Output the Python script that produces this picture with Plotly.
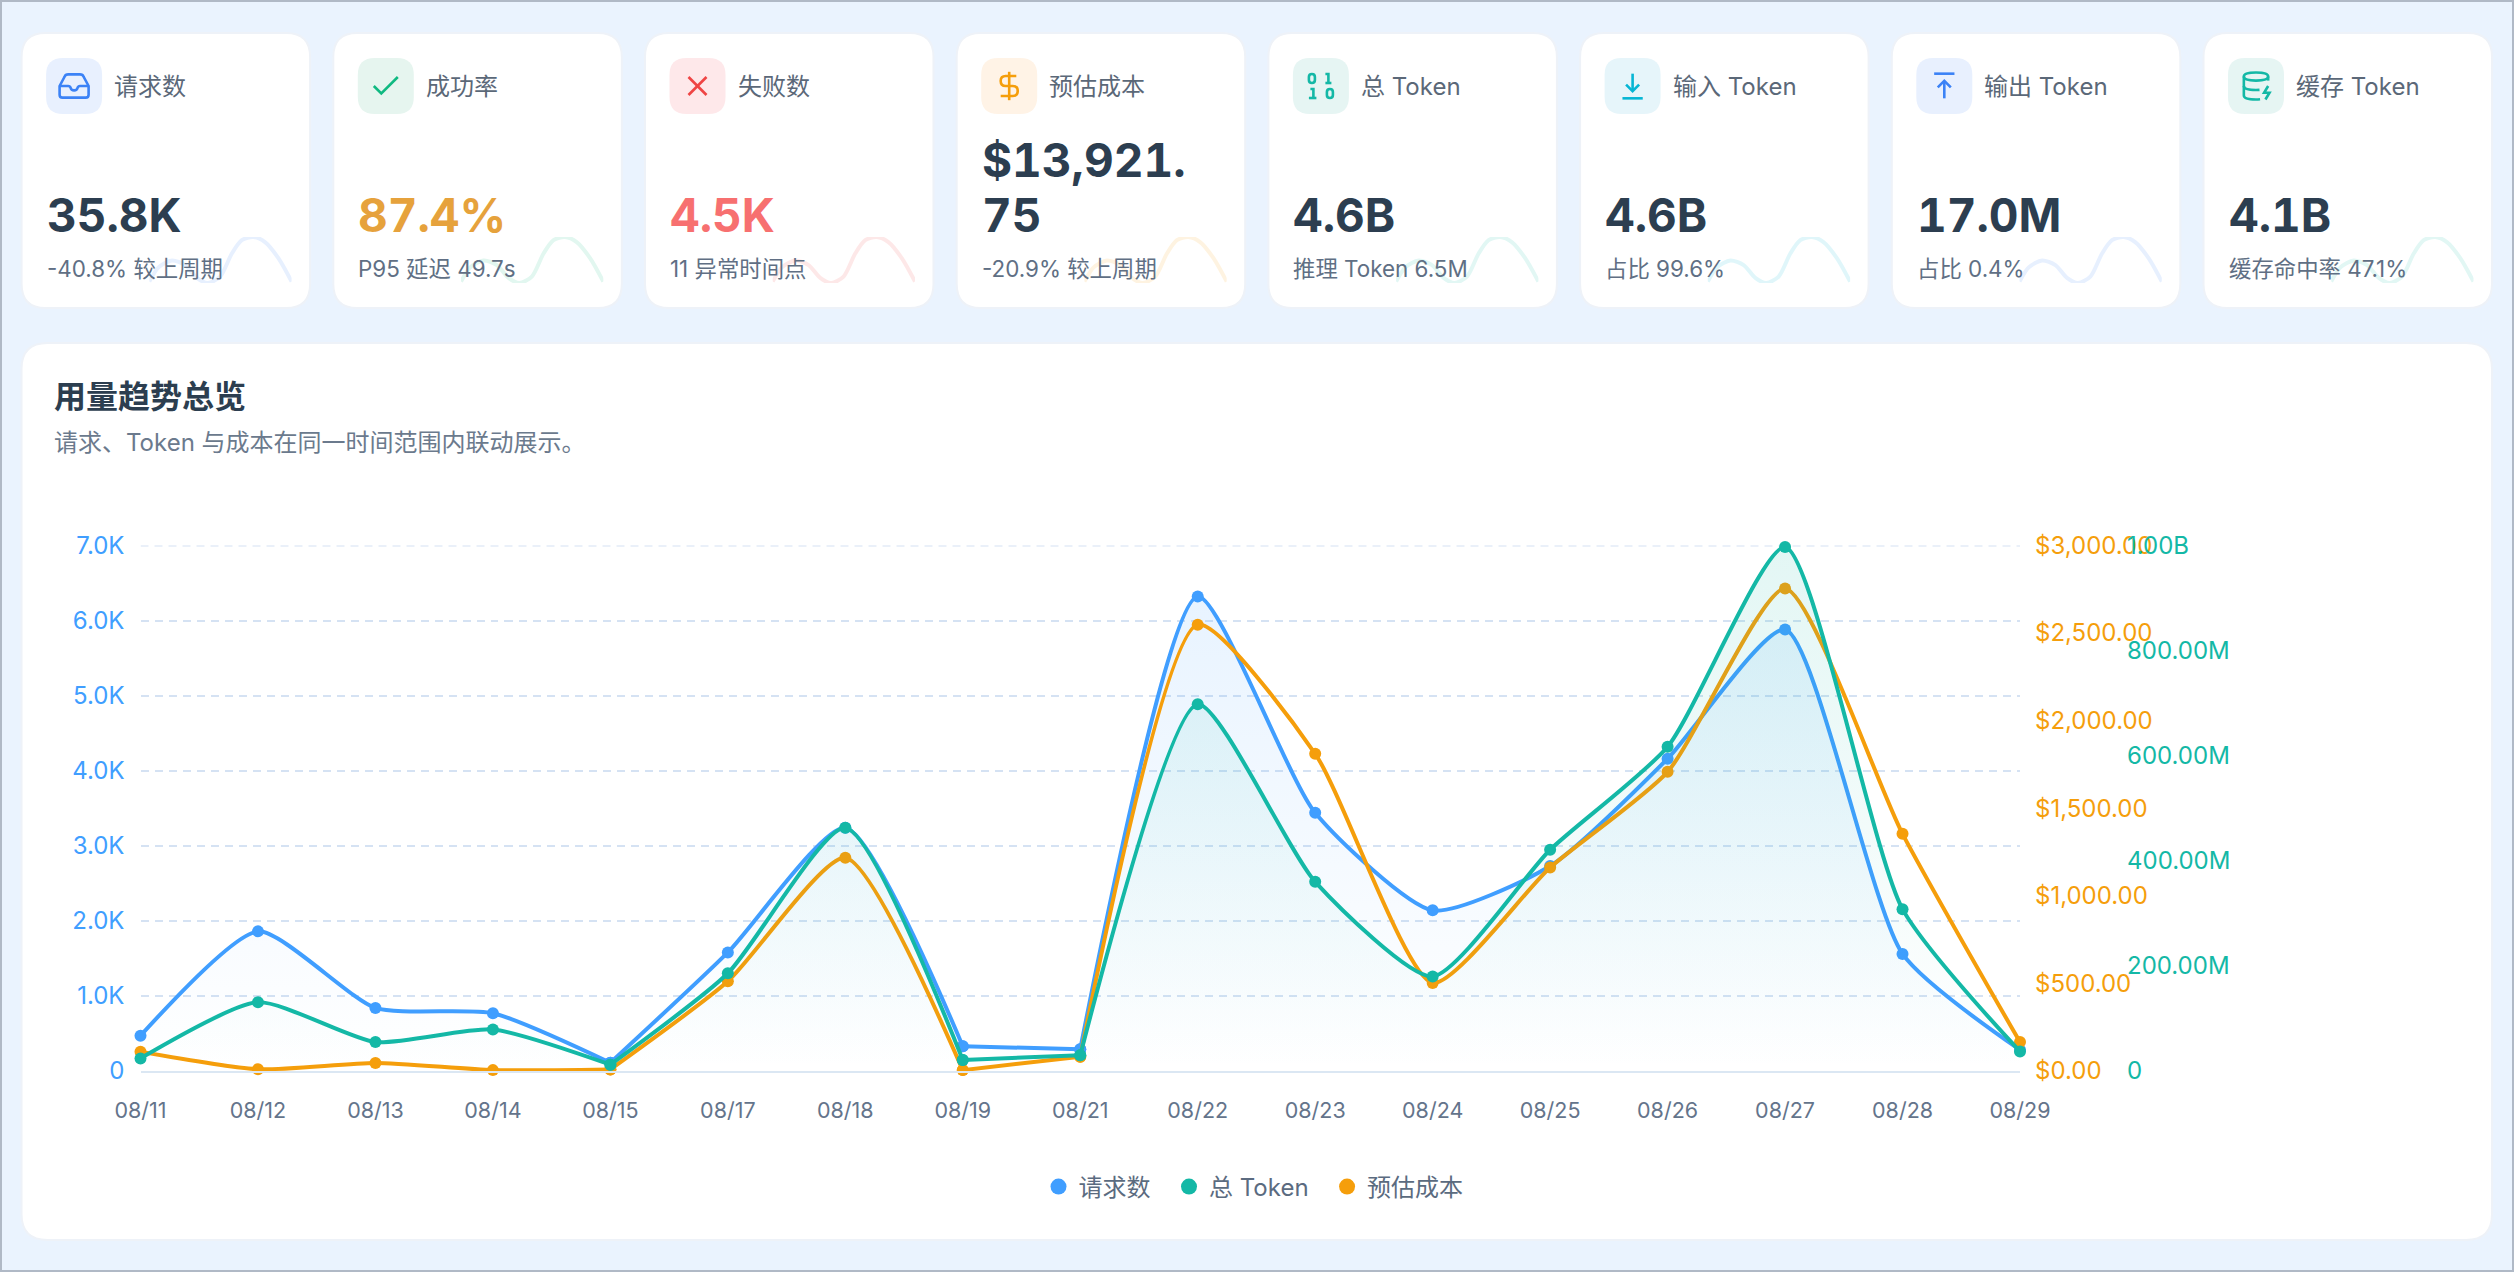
import re
import plotly.graph_objects as go

W, H = 2514, 1272
FONT = "Inter, 'Noto Sans CJK SC', sans-serif"

# chart data
dates = ["08/11", "08/12", "08/13", "08/14", "08/15", "08/17", "08/18", "08/19", "08/21",
         "08/22", "08/23", "08/24", "08/25", "08/26", "08/27", "08/28", "08/29"]
requests = [470, 1860, 840, 770, 110, 1580, 3240, 330, 290, 6320, 3440, 2140, 2730, 4160, 5880, 1560, 280]
tokens = [24e6, 131e6, 55e6, 79e6, 12e6, 186e6, 463e6, 21e6, 30e6, 698e6, 360e6, 180e6, 421e6, 617e6, 997e6, 308e6, 37e6]
cost = [110, 10, 46, 5, 9, 512, 1217, 5, 82, 2548, 1811, 503, 1162, 1708, 2754, 1354, 165]

# plotly splines dip under these flat stretches, so each series restarts here
break_dates = ["08/15", "08/19", "08/21"]

req_ticks = [0, 1000, 2000, 3000, 4000, 5000, 6000, 7000]
req_labels = ["0", "1.0K", "2.0K", "3.0K", "4.0K", "5.0K", "6.0K", "7.0K"]
cost_ticks = [0, 500, 1000, 1500, 2000, 2500, 3000]
cost_labels = ["$0.00", "$500.00", "$1,000.00", "$1,500.00", "$2,000.00", "$2,500.00", "$3,000.00"]
token_ticks = [0, 200e6, 400e6, 600e6, 800e6, 1e9]
token_labels = ["0", "200.00M", "400.00M", "600.00M", "800.00M", "1.00B"]

# stat cards
card_labels = ["请求数", "成功率", "失败数", "预估成本", "总 Token", "输入 Token", "输出 Token", "缓存 Token"]
card_values = ["35.8K", "87.4%", "4.5K", "$13,921.<br>75", "4.6B", "4.6B", "17.0M", "4.1B"]
card_subs = ["-40.8% 较上周期", "P95 延迟 49.7s", "11 异常时间点", "-20.9% 较上周期",
             "推理 Token 6.5M", "占比 99.6%", "占比 0.4%", "缓存命中率 47.1%"]
value_colors = ["#2c3e50", "#e6a23c", "#f77070", "#2c3e50", "#2c3e50", "#2c3e50", "#2c3e50", "#2c3e50"]
icon_colors = ["#3b82f6", "#10b981", "#ef4444", "#f59e0b", "#14b8a6", "#06b6d4", "#3b82f6", "#14b8a6"]
icon_bgs = ["#e8f0fe", "#e6f5ef", "#fee8ea", "#fff3e6", "#e6f5f3", "#e6f5fa", "#e8f0fe", "#e6f5f3"]

# background sparkline shape, same on every card
spark_x = [0, 6.5, 15.9, 25.2, 33.4, 41.1, 49.8, 58, 65, 73.1, 81.3, 90.7, 100]
spark_y = [3, 34, 49, 39, 11, 0, 14, 64, 93, 100, 89, 54, 3]

# icons, drawn in a 24 unit box
icons = [
    ["M2 12 L5.5 5.5 Q6 4 8 4 L16 4 Q18 4 18.5 5.5 L22 12 L22 18 Q22 20 20 20 L4 20 Q2 20 2 18 Z",
     "M2 12 L8 12 Q9 12 9.5 13 Q10 15 12 15 Q14 15 14.5 13 Q15 12 16 12 L22 12"],
    ["M20 6 L9 17 L4 12"],
    ["M18 6 L6 18", "M6 6 L18 18"],
    ["M12 2 L12 22", "M17 5 L9.5 5 Q6 5 6 8.5 Q6 12 9.5 12 L14.5 12 Q18 12 18 15.5 Q18 19 14.5 19 L6 19"],
    ["M4 6 Q4 4 6 4 Q8 4 8 6 L8 8 Q8 10 6 10 Q4 10 4 8 Z", "M15 4 L17 4 L17 10",
     "M5 14 L7 14 L7 20", "M16 16 Q16 14 18 14 Q20 14 20 16 L20 18 Q20 20 18 20 Q16 20 16 18 Z",
     "M15 10 L19 10", "M4 20 L9 20"],
    ["M12 3.5 L12 15.5", "M7.5 11 L12 15.5 L16.5 11", "M5 20.5 L19 20.5"],
    ["M5 3.5 L19 3.5", "M12 20.5 L12 8.5", "M7.5 13 L12 8.5 L16.5 13"],
    ["M3 5 Q3 2 12 2 Q21 2 21 5 Q21 8 12 8 Q3 8 3 5 Z", "M3 5 L3 19 Q3 22 12 22 Q13.5 22 15 21.8",
     "M21 5 L21 8", "M21 12 L18 17 L22 17 L19 22", "M3 12 Q3 15 12 15 Q13.5 15 14.6 14.9"],
]
icon_scale = [1.45, 1.5, 1.5, 1.42, 1.5, 1.45, 1.45, 1.35]

CARD_W, CARD_PITCH, CARD_LEFT = 288.5, 311.7, 21.6
CARD_TOP, CARD_BOTTOM = 33, 308


def round_rect(x0, y0, x1, y1, r):
    return (f"M{x0+r} {y0} L{x1-r} {y0} Q{x1} {y0} {x1} {y0+r} L{x1} {y1-r} Q{x1} {y1} {x1-r} {y1} "
            f"L{x0+r} {y1} Q{x0} {y1} {x0} {y1-r} L{x0} {y0+r} Q{x0} {y0} {x0+r} {y0} Z")


def place_icon(path, cx, cy, s):
    # alternate numbers are x and y
    nums = iter(range(10000))

    def fix(m):
        v = float(m.group())
        if next(nums) % 2 == 0:
            return f"{cx + (v - 12) * s:.2f}"
        return f"{cy + (v - 12) * s:.2f}"
    return re.sub(r"-?\d+\.?\d*", fix, path)


def text(x, y, s, size, color, weight=400):
    return dict(xref="x", yref="y", x=x, y=y, text=s, showarrow=False, xanchor="left", yanchor="middle",
                align="left", borderpad=0, font=dict(family=FONT, size=size, color=color, weight=weight))


fig = go.Figure()
shapes = []
annotations = []

# pixel overlay for the page furniture
fig.add_trace(go.Scatter(x=[None], y=[None], xaxis="x", yaxis="y", showlegend=False, hoverinfo="skip"))
layout_axes = dict(
    xaxis=dict(domain=[0, 1], range=[0, W], visible=False, fixedrange=True, automargin=False),
    yaxis=dict(domain=[0, 1], range=[H, 0], visible=False, fixedrange=True, automargin=False),
)

shapes.append(dict(type="path", xref="x", yref="y", layer="below",
                   path=round_rect(21.5, 343, 2492, 1240, 26), fillcolor="#ffffff",
                   line=dict(color="#eef2f8", width=2)))

for i in range(8):
    left = CARD_LEFT + i * CARD_PITCH
    shapes.append(dict(type="path", xref="x", yref="y", layer="below",
                       path=round_rect(left, CARD_TOP, left + CARD_W, CARD_BOTTOM, 24), fillcolor="#ffffff",
                       line=dict(color="#eef2f8", width=2)))
    shapes.append(dict(type="path", xref="x", yref="y", layer="below",
                       path=round_rect(left + 24.5, 58, left + 80.5, 114, 17), fillcolor=icon_bgs[i],
                       line=dict(width=0)))
    for p in icons[i]:
        shapes.append(dict(type="path", xref="x", yref="y", layer="below",
                           path=place_icon(p, left + 52.5, 86, icon_scale[i]),
                           line=dict(color=icon_colors[i], width=2.6)))

    annotations.append(text(left + 91.5, 86.5, card_labels[i], 24, "#5b6878"))
    lines = card_values[i].split("<br>")
    for k, line in enumerate(reversed(lines)):
        annotations.append(text(left + 24, 215 - k * 55, line, 46, value_colors[i], 700))
    annotations.append(text(left + 24, 268, card_subs[i], 22.4, "#606f84"))

    # sparkline lives in its own little subplot
    n = i + 5
    fig.add_trace(go.Scatter(
        x=spark_x, y=spark_y, xaxis=f"x{n}", yaxis=f"y{n}", mode="lines", showlegend=False, hoverinfo="skip",
        line=dict(color=icon_colors[i], width=4, shape="spline", smoothing=0.8), opacity=0.12, cliponaxis=False))
    layout_axes[f"xaxis{n}"] = dict(domain=[(left + 127.7) / W, (left + 270) / W], range=[0, 100], automargin=False,
                                    visible=False, fixedrange=True, anchor=f"y{n}")
    layout_axes[f"yaxis{n}"] = dict(domain=[1 - 283 / H, 1 - 237 / H], range=[0, 100], automargin=False,
                                    visible=False, fixedrange=True, anchor=f"x{n}")

annotations.append(text(52.5, 396, "用量趋势总览", 32, "#2c3e50", 700))
annotations.append(text(52.5, 442, "请求、Token 与成本在同一时间范围内联动展示。", 24, "#6b7a8d"))

# main chart
BLUE, TEAL, ORANGE = "#409eff", "#14b8a6", "#f59e0b"
series = [("请求数", requests, "y2", BLUE, "rgba(64,158,255,0.12)", "rgba(64,158,255,0)"),
          ("总 Token", tokens, "y4", TEAL, "rgba(20,184,166,0.12)", "rgba(20,184,166,0)"),
          ("预估成本", cost, "y3", ORANGE, None, None)]

cuts = [0] + [dates.index(d) for d in break_dates] + [len(dates) - 1]
for name, vals, yax, color, top, bottom in series:
    kw = {}
    if top:
        # fixed start/stop so all pieces of a series share one gradient
        kw = dict(fill="tozeroy", fillgradient=dict(type="vertical", start=0, stop=max(vals),
                                                    colorscale=[[0, bottom], [1, top]]))
    for a, b in zip(cuts[:-1], cuts[1:]):
        fig.add_trace(go.Scatter(
            x=dates[a:b + 1], y=vals[a:b + 1], xaxis="x2", yaxis=yax, name=name, mode="lines+markers",
            showlegend=False, line=dict(color=color, width=4, shape="spline", smoothing=0.6),
            marker=dict(color=color, size=12), cliponaxis=False, **kw))

# legend keys are plain dots, nbsp pads the gap between entries
for k, (name, _, _, color, _, _) in enumerate(series):
    pad = "&nbsp;&nbsp;" if k < 2 else ""
    fig.add_trace(go.Scatter(x=[None], y=[None], xaxis="x2", yaxis="y2", name=name + pad, mode="markers",
                             marker=dict(color=color, size=16)))

plot_dom = [1 - 1071 / H, 1 - 545.5 / H]
tick_font = dict(family=FONT, size=24)
layout_axes.update(
    xaxis2=dict(domain=[140.5 / W, 2020 / W], type="category", categoryorder="array", categoryarray=dates,
                range=[0, 16], anchor="y2", showgrid=False,
                showline=True, linecolor="#dbe7f3", linewidth=2, ticks="", fixedrange=True, automargin=False,
                tickfont=dict(family=FONT, size=21.5, color="#64748b"), ticklabelstandoff=19),
    yaxis2=dict(domain=plot_dom, range=[0, 7000], anchor="x2", tickvals=req_ticks, ticktext=req_labels,
                tickfont=dict(tick_font, color=BLUE), showgrid=True, gridcolor="#d5e2f3", griddash="8px,6px",
                gridwidth=2, zeroline=False, ticks="", fixedrange=True, ticklabelstandoff=15, automargin=False),
    yaxis3=dict(domain=plot_dom, range=[0, 3000], anchor="x2", overlaying="y2", side="right",
                tickvals=cost_ticks, ticktext=cost_labels, tickfont=dict(tick_font, color=ORANGE),
                showgrid=False, zeroline=False, ticks="", fixedrange=True, ticklabelstandoff=14, automargin=False),
    yaxis4=dict(domain=plot_dom, range=[0, 1e9], anchor="free", overlaying="y2", side="right",
                position=2112 / W, tickvals=token_ticks, ticktext=token_labels,
                tickfont=dict(tick_font, color=TEAL), showgrid=False, zeroline=False, ticks="",
                fixedrange=True, ticklabelstandoff=14, automargin=False),
)

# plotly drops the grid line at the very top of the range, so add it back
shapes.append(dict(type="line", xref="x2", yref="y2", x0=dates[0], x1=dates[-1], y0=req_ticks[-1], y1=req_ticks[-1],
                   layer="below", line=dict(color="#d5e2f3", width=2, dash="8px,6px")))

# frame round the screenshot
shapes.append(dict(type="rect", xref="paper", yref="paper", x0=0, x1=1, y0=0, y1=1, layer="above",
                   line=dict(color="#b0b9c6", width=4)))

fig.update_layout(
    template="none",
    width=W, height=H, margin=dict(l=0, r=0, t=0, b=0), autosize=False,
    paper_bgcolor="#eaf3fe", plot_bgcolor="rgba(0,0,0,0)",
    font=dict(family=FONT), shapes=shapes, annotations=annotations,
    legend=dict(orientation="h", x=1253.5 / W, xanchor="center", y=1 - 1187 / H, yanchor="middle",
                font=dict(family=FONT, size=24, color="#5b6b80"), itemsizing="trace",
                bgcolor="rgba(0,0,0,0)"),
    **layout_axes,
)

# only the big card values use tabular digits; plotly writes font-variant inline so it has to be forced
page_js = ("document.body.style.margin='0';document.body.style.overflow='hidden';"
           "var st=document.createElement('style');"
           "st.textContent='.annotation-text[style*=\"font-size: 46px\"]{font-variant-numeric:tabular-nums !important;"
           "font-feature-settings:\"tnum\" !important}';"
           "document.head.appendChild(st);")
fig.write_html("out.html", config={"displayModeBar": False}, post_script=page_js)
